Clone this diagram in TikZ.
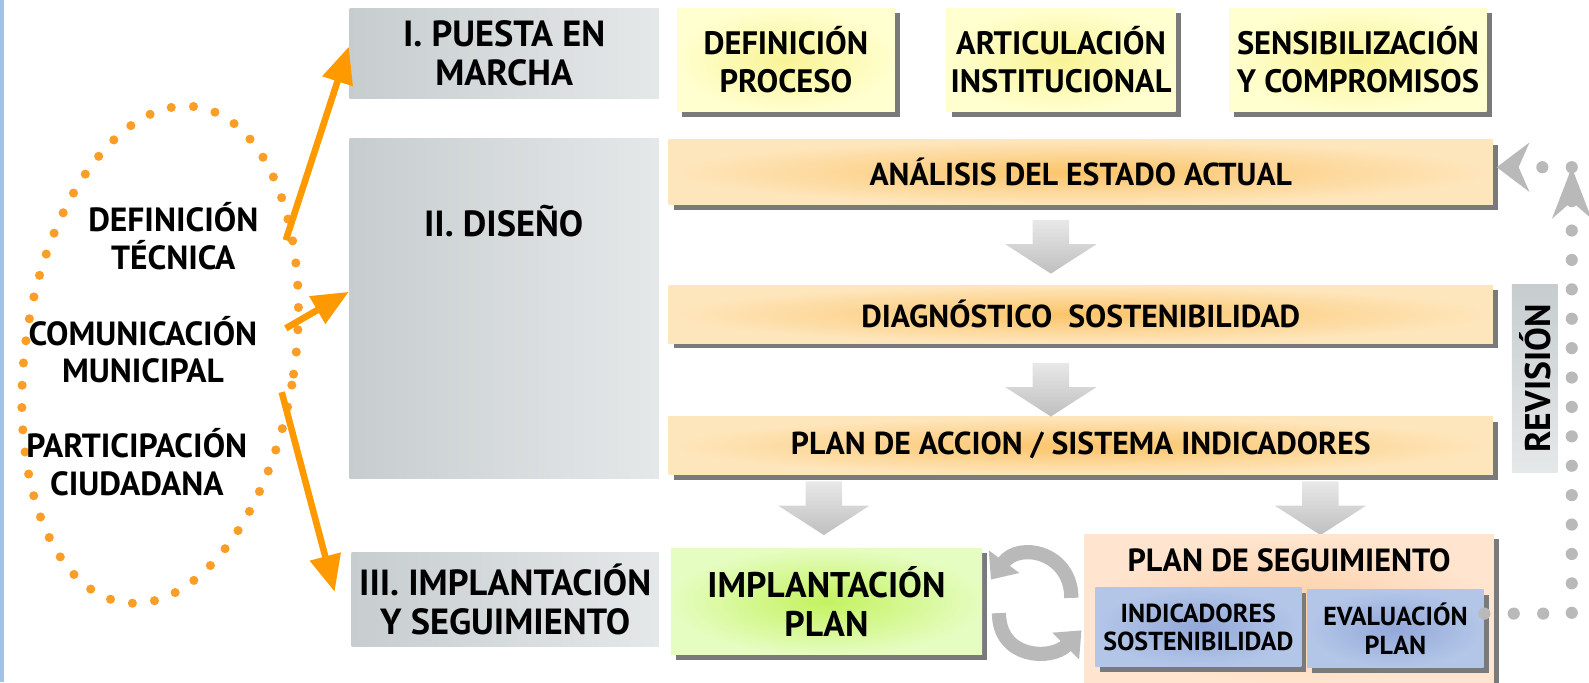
\documentclass[tikz,border=0pt]{standalone}
\usepackage{fontspec}
\setmainfont{PT Sans}
\usetikzlibrary{arrows.meta,shadows,shapes.geometric}

\definecolor{grisA}{RGB}{199,205,207}
\definecolor{grisB}{RGB}{229,232,233}
\definecolor{amarA}{RGB}{255,255,207}
\definecolor{amarB}{RGB}{249,243,150}
\definecolor{naranA}{RGB}{254,230,188}
\definecolor{naranB}{RGB}{251,196,106}
\definecolor{verdeA}{RGB}{229,253,192}
\definecolor{verdeB}{RGB}{196,242,96}
\definecolor{melocA}{RGB}{255,229,208}
\definecolor{melocB}{RGB}{252,206,164}
\definecolor{azulA}{RGB}{180,198,232}
\definecolor{azulB}{RGB}{146,168,216}
\definecolor{sombragris}{RGB}{122,122,122}
\definecolor{naranja}{RGB}{255,153,0}
\definecolor{naranjapunto}{RGB}{251,158,40}
\definecolor{bordeazul}{RGB}{160,196,232}

\begin{document}
\begin{tikzpicture}[x=0.01cm,y=-0.01cm,
  sombra/.style={drop shadow={shadow xshift=0.05cm,shadow yshift=-0.05cm,fill=sombragris,opacity=1}},
  fase/.style={left color=grisA,right color=grisB,inner sep=0pt,align=center,font=\fontsize{10.2}{11.1}\selectfont\bfseries},
  tarea/.style={sombra,outer color=amarA,inner color=amarB,inner sep=0pt,align=center,minimum height=1.02cm,font=\fontsize{9.1}{10.8}\selectfont\bfseries},
  barra/.style={sombra,outer color=naranA,inner color=naranB,inner sep=0pt,minimum width=8.13cm,font=\fontsize{8.9}{10}\selectfont\bfseries},
  verde/.style={sombra,outer color=verdeA,inner color=verdeB,inner sep=0pt,align=center,font=\fontsize{10}{10.8}\selectfont\bfseries},
  melocoton/.style={sombra,outer color=melocA,inner color=melocB,inner sep=0pt},
  azul/.style={sombra,outer color=azulA,inner color=azulB,inner sep=0pt,align=center,font=\fontsize{7.3}{8}\selectfont\bfseries},
  eje/.style={align=center,font=\fontsize{9.4}{10.5}\selectfont\bfseries},
  flechanaranja/.style={naranja,line width=0.065cm,-{Triangle[length=0.36cm,width=0.3cm]}},
  ciclo/.style={gray!55,line width=0.14cm,-{Triangle[length=0.22cm,width=0.36cm]}},
  puntos/.style={gray!55,line width=0.12cm,line cap=round,dash pattern=on 0pt off 0.29cm}]
\useasboundingbox (0,0) rectangle (1568,673);
\fill[bordeazul] (0,0) rectangle (4,673);

\node[fase,minimum width=3.05cm,minimum height=0.89cm] (puesta) at (497.5,52.5) {I. PUESTA EN\\MARCHA};
\node[fase,minimum width=3.05cm,minimum height=3.35cm] (diseno) at (497.5,304.5) {};
\node[eje,font=\fontsize{10.2}{11.1}\selectfont\bfseries] (disenolbl) at (497,218) {II. DISEÑO};
\node[fase,minimum width=3.03cm,minimum height=0.93cm] (implantacion) at (498.5,591.5) {III. IMPLANTACIÓN\\Y SEGUIMIENTO};

\node[tarea,minimum width=2.15cm] (defproceso) at (775.5,59) {DEFINICIÓN\\PROCESO};
\node[tarea,minimum width=2.26cm] (articulacion) at (1047,59) {ARTICULACIÓN\\INSTITUCIONAL};
\node[tarea,minimum width=2.54cm] (sensibilizacion) at (1340,59) {SENSIBILIZACIÓN\\Y COMPROMISOS};

\node[barra,minimum height=0.64cm] (analisis) at (1066.5,170) {ANÁLISIS DEL ESTADO ACTUAL};
\node[barra,minimum height=0.57cm] (diagnostico) at (1066.5,310) {DIAGNÓSTICO\ \ SOSTENIBILIDAD};
\node[barra,minimum height=0.57cm] (planaccion) at (1066.5,440) {PLAN DE ACCION / SISTEMA INDICADORES};

\foreach \x/\y in {1037/217,1037/358,813/475,1303/475}
  \shade[top color=gray!18,bottom color=gray!50] (\x-18,\y) -- (\x+18,\y) -- (\x+18,\y+24) -- (\x+45,\y+24) -- (\x,\y+53) -- (\x-45,\y+24) -- (\x-18,\y+24) -- cycle;

\node[verde,minimum width=3.07cm,minimum height=1.05cm] (implanplan) at (815.5,593.5) {IMPLANTACIÓN\\PLAN};
\node[melocoton,minimum width=4.04cm,minimum height=1.5cm] (seguimiento) at (1272,602) {};
\node[eje,font=\fontsize{9}{10}\selectfont\bfseries] (seguimientolbl) at (1272,553) {PLAN DE SEGUIMIENTO};
\node[azul,minimum width=2.03cm,minimum height=0.78cm] (indicadores) at (1182.5,619) {INDICADORES\\SOSTENIBILIDAD};
\node[azul,minimum width=1.74cm,minimum height=0.77cm] (evaluacion) at (1377,620.5) {EVALUACIÓN\\PLAN};

\node[rotate=90,top color=grisA,bottom color=grisB,inner sep=0pt,minimum width=1.85cm,minimum height=0.45cm,font=\fontsize{10}{11}\selectfont\bfseries] (revision) at (1514.5,373.5) {REVISIÓN};

\node[draw=naranjapunto,ellipse,line width=0.09cm,line cap=round,dash pattern=on 0pt off 0.22cm,rotate=-8.3,minimum width=2.66cm,minimum height=4.94cm] (ejes) at (158,350) {};
\node[eje] (tecnica) at (171,233) {DEFINICIÓN\\TÉCNICA};
\node[eje] (comunicacion) at (141,345) {COMUNICACIÓN\\MUNICIPAL};
\node[eje] (ciudadana) at (135,456) {PARTICIPACIÓN\\CIUDADANA};

\coordinate (o1) at (282,237);
\coordinate (o2) at (282,324);
\coordinate (o3) at (278,387);
\draw[flechanaranja] (o1) -- ([yshift=0.065cm]puesta.west);
\draw[flechanaranja] (o2) -- ([yshift=0.165cm]diseno.west);
\draw[flechanaranja] (o3) -- ([xshift=-0.16cm,yshift=0.075cm]implantacion.west);

\draw[ciclo] ([xshift=-0.12cm,yshift=0.12cm]seguimiento.west) .. controls +(0cm,0.45cm) and +(0.28cm,0.38cm) .. ([xshift=0.08cm,yshift=0.215cm]implanplan.east);
\draw[ciclo] ([xshift=0.16cm,yshift=-0.115cm]implanplan.east) .. controls +(0cm,-0.45cm) and +(-0.3cm,-0.3cm) .. ([xshift=-0.02cm,yshift=-0.2cm]seguimiento.west);

\coordinate (esquina) at (1551,165);
\draw[puntos,-{Stealth[length=0.5cm,width=0.38cm]}] ([yshift=0.15cm]evaluacion.east) -| (esquina);
\draw[puntos,-{Stealth[length=0.32cm,width=0.48cm]}] (esquina) -- ([xshift=0.03cm,yshift=0.05cm]analisis.east);
\end{tikzpicture}
\end{document}
